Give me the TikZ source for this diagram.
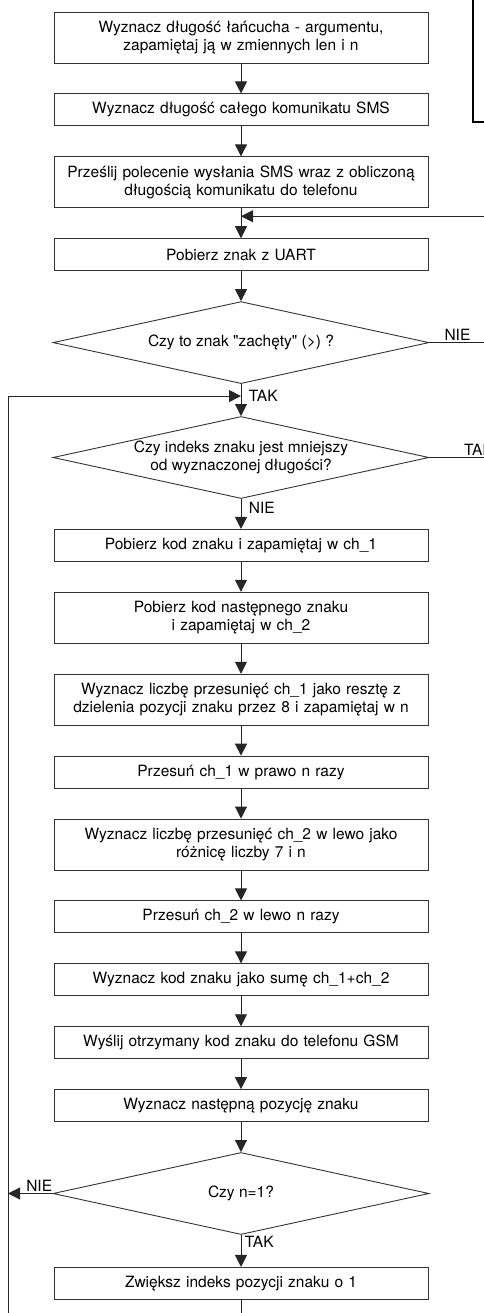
\documentclass[tikz,border=0pt]{standalone}
\usepackage{fontspec}
\setmainfont{TeX Gyre Heros}[Ligatures=TeXOff]
\usetikzlibrary{shapes.geometric, arrows.meta, positioning}

\begin{document}
\begin{tikzpicture}[
    font=\fontsize{15.5pt}{18.5pt}\selectfont,
    block/.style={rectangle, draw=black!80, line width=0.9pt, text width=364pt, align=center, minimum width=374pt, minimum height=32pt, inner sep=4pt},
    tall/.style={block, minimum height=51pt},
    decision/.style={diamond, draw=black!80, line width=0.9pt, aspect=4.6, minimum width=376pt, minimum height=82pt, inner sep=0pt, align=center},
    line/.style={draw=black!85, line width=0.9pt, -{Triangle[length=12pt,width=12pt]}},
    plain/.style={draw=black!85, line width=0.9pt},
    lbl/.style={inner sep=1.5pt},
    node distance=30pt
]
\useasboundingbox (0pt,0pt) rectangle (483pt,-1313pt);

% Place the nodes
\node [tall] (len) at (241pt,-37.5pt) {Wyznacz długość łańcucha - argumentu,\\ zapamiętaj ją w zmiennych len i n};
\node [block, below=of len] (sms) {Wyznacz długość całego komunikatu SMS};
\node [tall, below=of sms] (send) {Prześlij polecenie wysłania SMS wraz z obliczoną\\ długością komunikatu do telefonu};
\node [block, below=of send] (uart) {Pobierz znak z UART};
\node [decision, below=of uart] (prompt) {Czy to znak "zachęty" (>) ?};
\node [decision, below=32pt of prompt] (index) {Czy indeks znaku jest mniejszy\\ od wyznaczonej długości?};
\node [block, below=of index] (ch1) {Pobierz kod znaku i zapamiętaj w ch\_1};
\node [tall, below=of ch1] (ch2) {Pobierz kod następnego znaku\\ i zapamiętaj w ch\_2};
\node [tall, below=of ch2] (shr) {Wyznacz liczbę przesunięć ch\_1 jako resztę z\\ dzielenia pozycji znaku przez 8 i zapamiętaj w n};
\node [block, below=of shr] (shiftr) {Przesuń ch\_1 w prawo n razy};
\node [tall, below=of shiftr] (shl) {Wyznacz liczbę przesunięć ch\_2 w lewo jako\\ różnicę liczby 7 i n};
\node [block, below=of shl] (shiftl) {Przesuń ch\_2 w lewo n razy};
\node [block, below=of shiftl] (sum) {Wyznacz kod znaku jako sumę ch\_1+ch\_2};
\node [block, below=of sum] (gsm) {Wyślij otrzymany kod znaku do telefonu GSM};
\node [block, below=of gsm] (next) {Wyznacz następną pozycję znaku};
\node [decision, below=of next] (nisone) {Czy n=1?};
\node [block, below=32pt of nisone] (incr) {Zwiększ indeks pozycji znaku o 1};

% Loop ends (outside the page)
\coordinate (redge) at (495pt,0pt);
\coordinate (ledge) at (8pt,-1325pt);
\coordinate (back1) at ([yshift=-8pt]send.south);
\coordinate (back2) at ([yshift=-12pt]prompt.south);

% Draw the lines (arrows)
\path [line] (len) -- (sms);
\path [line] (sms) -- (send);
\path [line] (send) -- (uart);
\path [line] (uart) -- (prompt);
\path [line] (prompt.east) -- node [lbl, pos=0.2, anchor=south west] {NIE} (prompt.east -| redge) |- (back1);
\path [line] (prompt) -- node [lbl, pos=0.375, right=6pt] {TAK} (index);
\path [plain] (index.east) -- node [lbl, pos=0.5, anchor=south west] {TAK} (index.east -| redge);
\path [line] (ledge) |- (back2);
\path [line] (index) -- node [lbl, pos=0.3, right=6pt] {NIE} (ch1);
\path [line] (ch1) -- (ch2);
\path [line] (ch2) -- (shr);
\path [line] (shr) -- (shiftr);
\path [line] (shiftr) -- (shl);
\path [line] (shl) -- (shiftl);
\path [line] (shiftl) -- (sum);
\path [line] (sum) -- (gsm);
\path [line] (gsm) -- (next);
\path [line] (next) -- (nisone);
\path [line] (nisone.west) -- node [lbl, pos=0.3, above] {NIE} (nisone.west -| ledge);
\path [line] (nisone) -- node [lbl, pos=0.22, right=2pt] {TAK} (incr);
\path [plain] (incr) -- (incr |- ledge);

% Frame of the neighbouring box
\draw [line width=2pt] (473pt,5pt) |- (490pt,-122pt);

\end{tikzpicture}
\end{document}
